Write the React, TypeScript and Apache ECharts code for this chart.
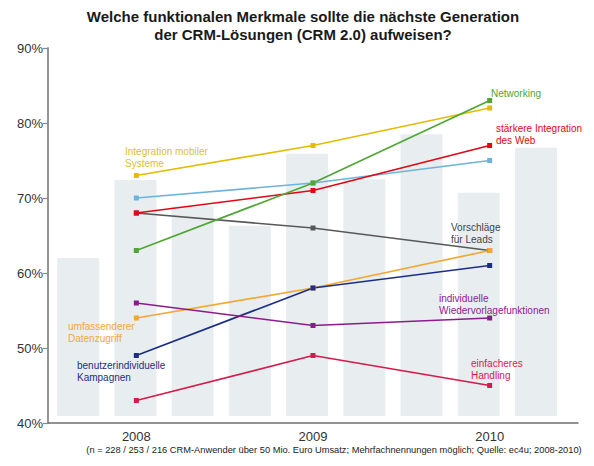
import React, { useEffect, useRef } from "react";
import * as echarts from "echarts";

// ---- data ----
const years = ["2008", "2009", "2010"];
const yMin = 40;
const yMax = 90;
const yStep = 10;

const mobileSystems = [73, 77, 82];
const networking = [63, 72, 83];
const webIntegration = [68, 71, 77];
const unlabeledBlue = [70, 72, 75];
const leadSuggestions = [68, 66, 63];
const dataAccess = [54, 58, 63];
const campaigns = [49, 58, 61];
const followUp = [56, 53, 54];
const easyHandling = [43, 49, 45];

// decorative background columns
const bgCategories = ["a", "b", "c", "d", "e", "f", "g", "h", "i"];
const bgTops = [62.0, 72.4, 68.9, 66.3, 75.9, 72.5, 78.5, 70.7, 76.7];
const bgBase = 40.95;

const titleLines = [
  "Welche funktionalen Merkmale sollte die nächste Generation",
  "der CRM-Lösungen (CRM 2.0) aufweisen?",
];
const footnote =
  "(n = 228 / 253 / 216 CRM-Anwender über 50 Mio. Euro Umsatz; Mehrfachnennungen möglich; Quelle: ec4u; 2008-2010)";

const FONT = "'Liberation Sans', Arial, Helvetica, sans-serif";

const lineDefs = [
  { name: "weitere Funktion", data: unlabeledBlue, color: "#6cb4dc" },
  { name: "Vorschläge für Leads", data: leadSuggestions, color: "#585858" },
  { name: "Integration mobiler Systeme", data: mobileSystems, color: "#e3bd00" },
  { name: "stärkere Integration des Web", data: webIntegration, color: "#e30613" },
  { name: "Networking", data: networking, color: "#4fa636" },
  { name: "umfassenderer Datenzugriff", data: dataAccess, color: "#f3a735" },
  { name: "benutzerindividuelle Kampagnen", data: campaigns, color: "#1c2e86" },
  { name: "individuelle Wiedervorlagefunktionen", data: followUp, color: "#8b1c8c" },
  { name: "einfacheres Handling", data: easyHandling, color: "#d61a4c" },
];

const labelDefs = [
  { text: "Integration mobiler\nSysteme", x: 125, y: 145, color: "#dcc032" },
  { text: "Networking", x: 491, y: 87, color: "#4fa636" },
  { text: "stärkere Integration\ndes Web", x: 496, y: 122, color: "#e30613" },
  { text: "Vorschläge\nfür Leads", x: 451, y: 221, color: "#444444" },
  { text: "individuelle\nWiedervorlagefunktionen", x: 439, y: 292, color: "#8b1c8c" },
  { text: "umfassenderer\nDatenzugriff", x: 68, y: 320, color: "#f0a838" },
  { text: "benutzerindividuelle\nKampagnen", x: 77, y: 359, color: "#1c2e86" },
  { text: "einfacheres\nHandling", x: 471, y: 357, color: "#d61a4c" },
];

export default function App() {
  const ref = useRef<HTMLDivElement>(null);

  useEffect(() => {
    if (!ref.current) return;
    const chart = echarts.init(ref.current, null, { renderer: "svg" });

    const lineSeries = lineDefs.map((d) => ({
      type: "line",
      name: d.name,
      xAxisIndex: 1,
      yAxisIndex: 1,
      data: d.data,
      symbol: "rect",
      symbolSize: 5,
      showSymbol: true,
      z: 5,
      lineStyle: { color: d.color, width: 1.7 },
      itemStyle: { color: d.color },
      emphasis: { disabled: true },
    }));

    const graphics: any[] = [
      {
        type: "text",
        x: 303,
        y: 7,
        style: {
          text: titleLines.join("\n"),
          align: "center",
          verticalAlign: "top",
          font: `bold 15px ${FONT}`,
          lineHeight: 18,
          fill: "#1a1a1a",
        },
      },
      {
        type: "text",
        x: 334,
        y: 450,
        style: {
          text: footnote,
          align: "center",
          verticalAlign: "middle",
          font: `9.3px ${FONT}`,
          fill: "#222",
        },
      },
      ...labelDefs.map((l) => ({
        type: "text",
        x: l.x,
        y: l.y,
        z: 10,
        style: {
          text: l.text,
          align: "left",
          verticalAlign: "top",
          font: `10px ${FONT}`,
          lineHeight: 12,
          fill: l.color,
        },
      })),
    ];

    chart.setOption({
      animation: false,
      grid: [
        { left: 49.6, right: 29.4, top: 48, bottom: 43 },
        { left: 48, right: 16, top: 48, bottom: 43 },
      ],
      xAxis: [
        {
          type: "category",
          gridIndex: 0,
          data: bgCategories,
          show: false,
        },
        {
          type: "category",
          gridIndex: 1,
          data: years,
          boundaryGap: true,
          axisLine: { lineStyle: { color: "#6e6e6e", width: 1.5 } },
          axisTick: { inside: true, length: 5, lineStyle: { color: "#6e6e6e", width: 1.2 } },
          axisLabel: { fontSize: 13, color: "#333", margin: 7, fontFamily: FONT },
          splitLine: { show: false },
        },
      ],
      yAxis: [
        { type: "value", gridIndex: 0, min: yMin, max: yMax, show: false },
        {
          type: "value",
          gridIndex: 1,
          min: yMin,
          max: yMax,
          interval: yStep,
          axisLine: { show: true, lineStyle: { color: "#8a8a8a", width: 1.8 } },
          axisTick: { show: true, inside: false, length: 5, lineStyle: { color: "#8a8a8a", width: 1.2 } },
          axisLabel: {
            formatter: "{value}%",
            fontSize: 13,
            color: "#333",
            margin: 5,
            fontFamily: FONT,
          },
          splitLine: { show: false },
        },
      ],
      series: [
        {
          type: "bar",
          xAxisIndex: 0,
          yAxisIndex: 0,
          stack: "bg",
          barWidth: 42,
          data: bgTops.map(() => bgBase),
          itemStyle: { color: "rgba(0,0,0,0)" },
          silent: true,
          z: 1,
        },
        {
          type: "bar",
          xAxisIndex: 0,
          yAxisIndex: 0,
          stack: "bg",
          barWidth: 42,
          data: bgTops.map((v) => v - bgBase),
          itemStyle: { color: "#e8eef0" },
          silent: true,
          z: 1,
        },
        ...lineSeries,
      ],
      graphic: graphics,
    });

    return () => chart.dispose();
  }, []);

  return (
    <div
      ref={ref}
      style={{ position: "fixed", left: 0, top: 0, width: 594, height: 466, background: "#fff" }}
    />
  );
}
